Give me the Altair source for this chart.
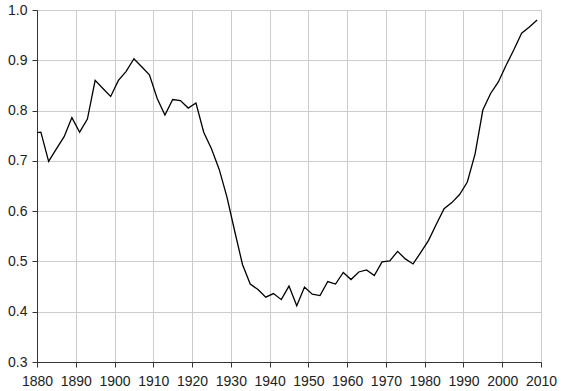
import altair as alt
import pandas as pd

years = [1880, 1881, 1883, 1885, 1887, 1889, 1891, 1893, 1895, 1897, 1899,
         1901, 1903, 1905, 1907, 1909, 1911, 1913, 1915, 1917, 1919,
         1921, 1923, 1925, 1927, 1929, 1931, 1933, 1935, 1937, 1939,
         1941, 1943, 1945, 1947, 1949, 1951, 1953, 1955, 1957, 1959,
         1961, 1963, 1965, 1967, 1969, 1971, 1973, 1975, 1977, 1979,
         1981, 1983, 1985, 1987, 1989, 1991, 1993, 1995, 1997, 1999,
         2001, 2003, 2005, 2007, 2009]
values = [0.756, 0.757, 0.699, 0.724, 0.748, 0.786, 0.757, 0.783, 0.860, 0.844, 0.828,
          0.860, 0.878, 0.903, 0.887, 0.871, 0.824, 0.791, 0.822, 0.820, 0.805,
          0.815, 0.757, 0.724, 0.683, 0.628, 0.560, 0.494, 0.455, 0.444, 0.429,
          0.436, 0.424, 0.451, 0.412, 0.449, 0.435, 0.432, 0.460, 0.455, 0.478,
          0.464, 0.479, 0.483, 0.472, 0.499, 0.501, 0.520, 0.505, 0.495, 0.518,
          0.542, 0.574, 0.605, 0.617, 0.633, 0.658, 0.714, 0.801, 0.834, 0.857,
          0.890, 0.921, 0.954, 0.966, 0.980]
x_ticks = list(range(1880, 2011, 10))
y_ticks = [0.3, 0.4, 0.5, 0.6, 0.7, 0.8, 0.9, 1.0]

df = pd.DataFrame({"year": years, "value": values})

chart = alt.Chart(df).mark_line(color="#000000", strokeWidth=1.3).encode(
    x=alt.X("year:Q",
            scale=alt.Scale(domain=[1880, 2010], nice=False, zero=False),
            axis=alt.Axis(values=x_ticks, format="d", title=None,
                          labelFontSize=14, labelColor="#222222",
                          labelFont="Liberation Sans", labelPadding=7,
                          tickSize=5, tickColor="#333333", domainColor="#333333",
                          gridColor="#cccccc", gridWidth=1, labelFlush=False)),
    y=alt.Y("value:Q",
            scale=alt.Scale(domain=[0.3, 1.0], nice=False, zero=False),
            axis=alt.Axis(values=y_ticks, format=".1f", title=None,
                          labelFontSize=14, labelColor="#222222",
                          labelFont="Liberation Sans", labelPadding=5,
                          tickSize=5, tickColor="#333333", domainColor="#333333",
                          gridColor="#cccccc", gridWidth=1, labelFlush=False)),
).properties(
    width=504, height=352,
    autosize=alt.AutoSizeParams(type="none"),
    padding={"left": 37, "top": 10, "right": 22, "bottom": 29},
).configure_view(stroke="#333333", strokeWidth=1).configure(background="white")

chart.save("out.html", embed_options={"renderer": "svg", "actions": False})
